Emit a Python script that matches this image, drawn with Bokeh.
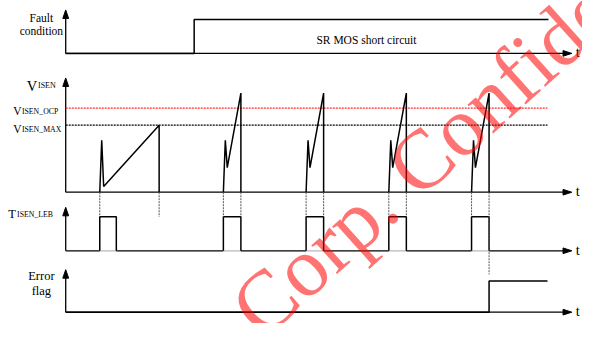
import math
from bokeh.plotting import figure
from bokeh.models import Range1d
from bokeh.core.properties import value
from bokeh.embed import file_html
from bokeh.resources import INLINE

# ---------------- data (time in diagram units, levels above each baseline) ----
axis_x = 67
t_end = 587
fault_t = [67, 199, 199, 563]
fault_lv = [0, 0, 36, 36]

visen_t = [[102, 104, 106, 163, 163],
           [229, 231, 233, 247, 247],
           [314, 316, 318, 332, 332],
           [399, 401, 403, 417, 417],
           [484, 486, 488, 502, 502]]
visen_lv = [[0, 55, 6, 71, 0],
            [0, 55, 26, 105, 0],
            [0, 55, 26, 105, 0],
            [0, 55, 26, 105, 0],
            [0, 55, 26, 105, 0]]
ocp_lv = 89
max_lv = 71
ref_end = 562

leb_start = [102, 229, 314, 399, 484]
leb_end = [119, 247, 332, 417, 502]
leb_lv = 36

err_t = [67, 502, 502, 562]
err_lv = [0, 0, 33, 33]

guide_x = [102, 163, 229, 247, 314, 332, 399, 417, 484, 502]
guide_to = ["leb", "leb", "leb", "leb", "leb", "leb", "leb", "leb", "leb", "err"]

# ---------------- layout ----------------
base = {"fault": 56, "visen": 203, "leb": 265, "err": 330}
top = {"fault": 10, "visen": 82, "leb": 219, "err": 285}

p = figure(width=582, height=323, x_range=Range1d(0, 598), y_range=Range1d(342, 0),
           x_axis_type=None, y_axis_type=None, output_backend="svg",
           toolbar_location=None, min_border=0)
p.grid.visible = False
p.outline_line_color = None
p.background_fill_color = "white"

FONT = value("Liberation Serif")
AW = 1.3
SW = 1.5

# axes with arrows
for k in base:
    b = base[k]
    p.line([axis_x, axis_x], [b, top[k] + 6], line_color="black", line_width=AW)
    p.patch([axis_x, axis_x - 3, axis_x + 3], [top[k], top[k] + 9, top[k] + 9], color="black")
    p.patch([t_end, t_end - 9, t_end - 9], [b, b - 3, b + 3], color="black")
    p.text(x=[591], y=[b - 1], text=["t"], text_font=FONT, text_font_size="14.5px",
           text_align="left", text_baseline="middle", text_color="black")

# baselines
for k in ["fault", "visen", "err"]:
    p.line([axis_x, t_end - 5], [base[k], base[k]], line_color="black", line_width=AW)
# leb baseline: gray under pulses
bx = [axis_x] + [v for pair in zip(leb_start, leb_end) for v in pair] + [t_end - 5]
for i in range(0, len(bx) - 1):
    col = "black" if i % 2 == 0 else "#b8b8b8"
    p.line([bx[i], bx[i + 1]], [base["leb"], base["leb"]], line_color=col, line_width=AW)

# fault signal
p.line(fault_t, [base["fault"] - v for v in fault_lv], line_color="black", line_width=SW)

# reference dashed lines
p.line([axis_x, ref_end], [base["visen"] - ocp_lv] * 2, line_color="#ff2a2a", line_width=1.2, line_dash="2 1")
p.line([axis_x, ref_end], [base["visen"] - max_lv] * 2, line_color="black", line_width=1.1, line_dash="2 1")

# visen pulses
p.multi_line(visen_t, [[base["visen"] - v for v in lv] for lv in visen_lv],
             line_color="black", line_width=SW)

# leb pulses
for s, e in zip(leb_start, leb_end):
    p.line([s, s, e, e], [base["leb"], base["leb"] - leb_lv, base["leb"] - leb_lv, base["leb"]],
           line_color="black", line_width=SW)

# error flag
p.line(err_t, [base["err"] - v for v in err_lv], line_color="black", line_width=SW)

# guides
for x, d in zip(guide_x, guide_to):
    y2 = base["leb"] - leb_lv if d == "leb" else base["err"] - err_lv[-1] - 7
    p.line([x, x], [base["visen"], y2], line_color="#555555", line_width=1, line_dash="2 1")

# labels
def lab(x, y, t, size, align="left"):
    p.text(x=[x], y=[y], text=[t], text_font=FONT, text_font_size=size,
           text_align=align, text_baseline="alphabetic", text_color="black")

lab(42, 18, "Fault", "11.5px", "center")
lab(42, 32, "condition", "11.5px", "center")
lab(376, 42, "SR MOS short circuit", "11.5px", "center")
lab(27, 90, "V", "14.5px")
lab(38.5, 90, "ISEN", "8px")
lab(13, 117, "V", "11.5px")
lab(22, 118, "ISEN_OCP", "7.8px")
lab(13, 136, "V", "11.5px")
lab(22, 137, "ISEN_MAX", "7.8px")
lab(8, 226, "T", "12.5px")
lab(17, 227, "ISEN_LEB", "7.8px")
lab(42, 292, "Error", "12.5px", "center")
lab(42, 308, "flag", "12.5px", "center")

# watermark
p.text(x=[250], y=[338], text=["Corp. Confidential"], text_font=FONT, text_font_size="84px",
       text_align="left", text_baseline="alphabetic", text_color="red", text_alpha=0.55,
       angle=math.radians(42))

open("out.html", "w").write(file_html(p, INLINE))
